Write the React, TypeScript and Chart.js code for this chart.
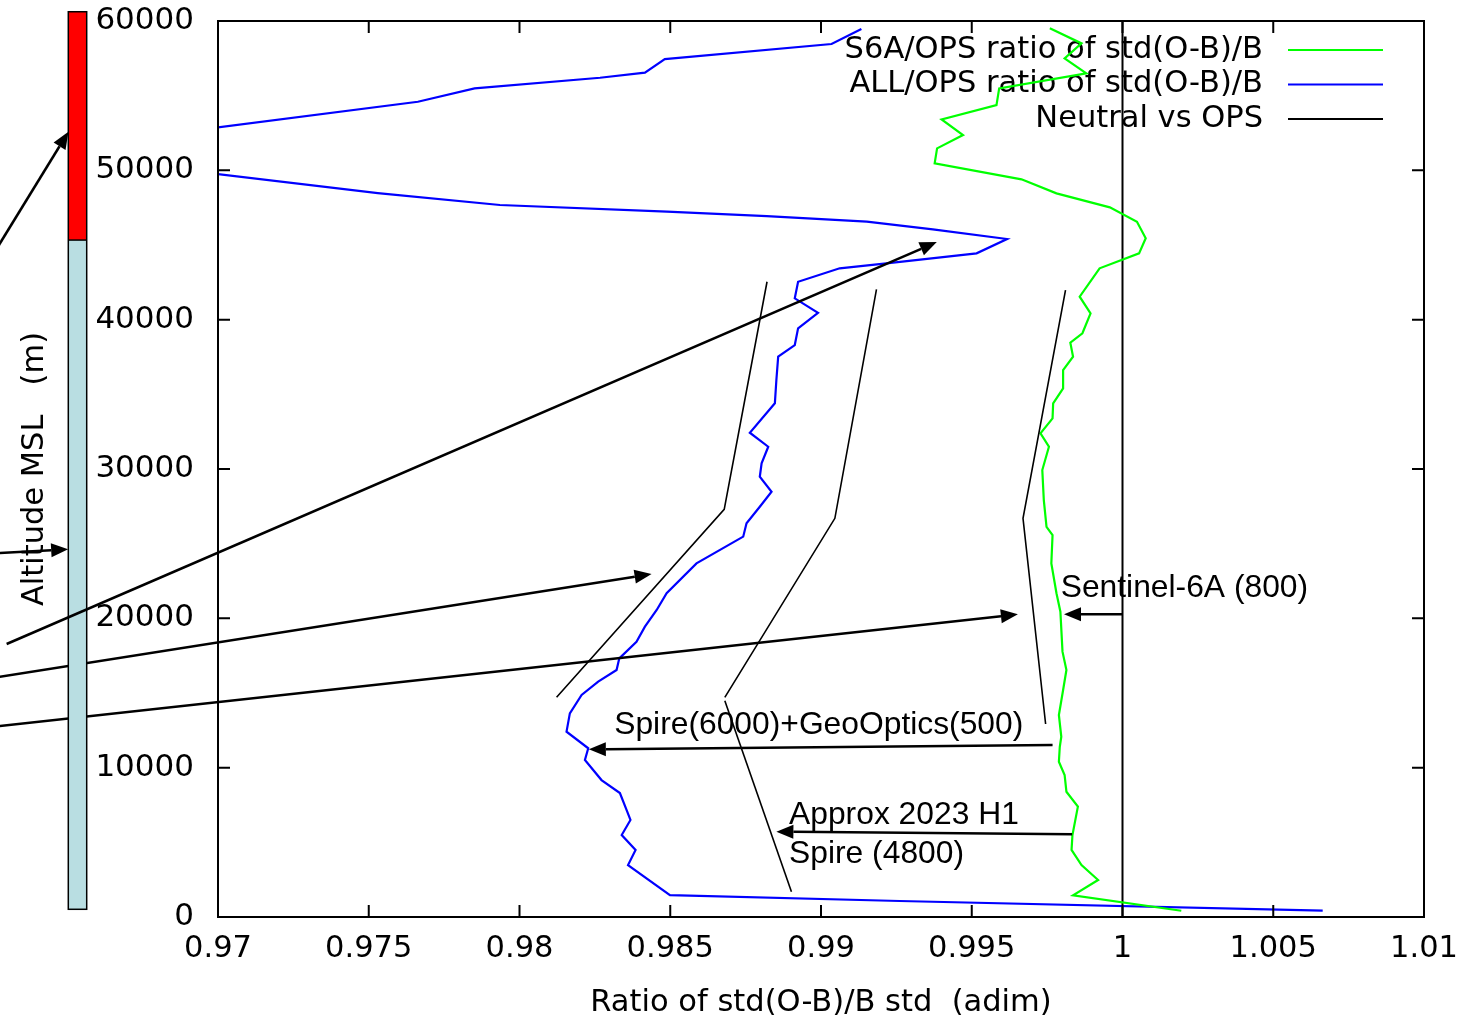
import React, { useEffect, useRef } from "react";
import { Chart, registerables } from "chart.js";

Chart.register(...registerables);

// ---------------- data ----------------
const xTicks = [0.97, 0.975, 0.98, 0.985, 0.99, 0.995, 1.0, 1.005, 1.01];
const xTickLabels = ["0.97", "0.975", "0.98", "0.985", "0.99", "0.995", "1", "1.005", "1.01"];
const yTicks = [0, 10000, 20000, 30000, 40000, 50000, 60000];
const yTickLabels = ["0", "10000", "20000", "30000", "40000", "50000", "60000"];

// ALL/OPS ratio of std(O-B)/B (blue)
const allRatio = [
  1.00664, 0.99261, 0.98499, 0.9836, 0.98385, 0.98339, 0.98368, 0.98355, 0.98333, 0.98272,
  0.98217, 0.98228, 0.98156, 0.98167, 0.98206, 0.98261, 0.98322, 0.98331, 0.98388, 0.98416,
  0.98455, 0.98488, 0.98587, 0.98742, 0.98753, 0.98797, 0.98836, 0.98797, 0.98803, 0.98825,
  0.98764, 0.98847, 0.98852, 0.98858, 0.98913, 0.98924, 0.9899, 0.98913, 0.98924, 0.99062,
  0.99217, 0.99516, 0.99617, 0.99371, 0.99152, 0.9882, 0.98489, 0.97935, 0.9753, 0.9637,
  0.97663, 0.97851, 0.98267, 0.98416, 0.98482, 0.99035, 0.99134,
];
const allAlt = [
  430, 1070, 1470, 3480, 4490, 5490, 6500, 7170, 8300, 9170,
  10510, 11300, 12410, 13640, 14870, 15760, 16540, 17320, 18430, 19440,
  20560, 21680, 23680, 25470, 26360, 27470, 28480, 29480, 30380, 31490,
  32430, 34400, 35960, 37520, 38300, 39420, 40460, 41430, 42540, 43440,
  43770, 44440, 45400, 46050, 46560, 46940, 47230, 47680, 48480, 51250,
  54590, 55490, 56200, 56540, 57450, 58460, 59460,
];

// S6A/OPS ratio of std(O-B)/B (green)
const s6aRatio = [
  1.00195, 0.99836, 0.99919, 0.99864, 0.99831, 0.99834, 0.99852, 0.99814, 0.99808, 0.99789,
  0.99792, 0.99797, 0.99789, 0.99803, 0.99814, 0.99801, 0.99794, 0.99781, 0.99764, 0.99768,
  0.99748, 0.99739, 0.99734, 0.99756, 0.99728, 0.99768, 0.9977, 0.99803, 0.99803, 0.99836,
  0.99827, 0.99867, 0.99894, 0.99858, 0.99924, 1.00055, 1.00077, 1.00048, 0.99958, 0.99781,
  0.99665, 0.99377, 0.99385, 0.99471, 0.994, 0.99582, 0.99591, 0.9988, 0.99808, 0.99864,
  0.99759,
];
const s6aAlt = [
  420, 1450, 2480, 3480, 4490, 5490, 7390, 8390, 9510, 10400,
  11400, 12070, 13530, 15200, 16540, 17770, 20440, 21680, 23680, 25580,
  26130, 27920, 29930, 31490, 32390, 33390, 34400, 35400, 36630, 37520,
  38460, 39090, 40420, 41540, 43440, 44440, 45450, 46560, 47520, 48460,
  49400, 50470, 51470, 52360, 53410, 54370, 55490, 56490, 57500, 58500,
  59510,
];

// Neutral vs OPS (black vertical)
const neutralRatio = [1.0, 1.0];
const neutralAlt = [0, 60000];

// colour bar altitudes (top, red/blue split, bottom)
const barAlt = [60620, 45330, 516];

// annotation arrows (data coordinates: [ratio, altitude])
const arrowsBehindBar = [
  [[0.96201, 15850], [0.98438, 22967]],
  [[0.96201, 12622], [0.99653, 20269]],
];
const arrowsFront = [
  [[0.96201, 42620], [0.96504, 52584]],
  [[0.96201, 24293], [0.96503, 24621]],
  [[0.96299, 18280], [0.99384, 45198]],
  [[1.0, 20269], [0.99806, 20269]],
  [[0.99768, 11517], [0.9823, 11229]],
  [[0.99833, 5538], [0.98852, 5712]],
];
const guideLine1 = [[0.98123, 14711], [0.98679, 27300], [0.98821, 42540]];
const guideLine2 = [[0.98681, 14711], [0.99046, 26697], [0.99184, 42031]];
const guideLine3 = [[0.99745, 12923], [0.9967, 26697], [0.99811, 41984]];
const guideLine4 = [[0.98681, 14484], [0.98902, 1694]];

const noteTexts = ["Sentinel-6A (800)", "Spire(6000)+GeoOptics(500)", "Approx 2023 H1", "Spire (4800)"];
const noteRatio = [0.99795, 0.98314, 0.98894, 0.98894];
const noteAlt = [21427, 12234, 6227, 3616];

// ---------------- drawing helpers ----------------
const DEJAVU = '"DejaVu Sans", sans-serif';
const ARIAL = '"Liberation Sans", Arial, sans-serif';

function toPx(chart: any, p: number[]) {
  return [chart.scales.x.getPixelForValue(p[0]), chart.scales.y.getPixelForValue(p[1])];
}

function drawArrow(ctx: CanvasRenderingContext2D, a: number[], b: number[], lw: number) {
  const ang = Math.atan2(b[1] - a[1], b[0] - a[0]);
  const L = 17;
  const W = 7;
  const bx = b[0] - L * Math.cos(ang);
  const by = b[1] - L * Math.sin(ang);
  ctx.lineWidth = lw;
  ctx.beginPath();
  ctx.moveTo(a[0], a[1]);
  ctx.lineTo(bx, by);
  ctx.stroke();
  ctx.beginPath();
  ctx.moveTo(b[0], b[1]);
  ctx.lineTo(bx + W * Math.sin(ang), by - W * Math.cos(ang));
  ctx.lineTo(bx - W * Math.sin(ang), by + W * Math.cos(ang));
  ctx.closePath();
  ctx.fill();
}

const decorPlugin = {
  id: "decor",
  beforeDatasetsDraw(chart: any) {
    const { ctx, chartArea } = chart;
    ctx.save();
    ctx.font = `30.5px ${DEJAVU}`;
    ctx.textAlign = "right";
    ctx.textBaseline = "middle";
    chart.data.datasets.forEach((ds: any, i: number) => {
      const y = chartArea.top + 29 + i * 34.5;
      ctx.fillStyle = "#000";
      ctx.fillText(ds.label, chartArea.right - 161, y);
      ctx.strokeStyle = ds.borderColor;
      ctx.lineWidth = 2;
      ctx.beginPath();
      ctx.moveTo(chartArea.right - 136, y);
      ctx.lineTo(chartArea.right - 41, y);
      ctx.stroke();
    });
    ctx.restore();
  },
  afterDatasetsDraw(chart: any) {
    const { ctx, chartArea } = chart;
    const { left, right, top, bottom } = chartArea;
    ctx.save();
    ctx.strokeStyle = "#000";
    ctx.lineWidth = 2;
    const tl = 12;
    xTicks.forEach((v) => {
      const x = chart.scales.x.getPixelForValue(v);
      ctx.beginPath();
      ctx.moveTo(x, bottom);
      ctx.lineTo(x, bottom - tl);
      ctx.moveTo(x, top);
      ctx.lineTo(x, top + tl);
      ctx.stroke();
    });
    yTicks.forEach((v) => {
      const y = chart.scales.y.getPixelForValue(v);
      ctx.beginPath();
      ctx.moveTo(left, y);
      ctx.lineTo(left + tl, y);
      ctx.moveTo(right, y);
      ctx.lineTo(right - tl, y);
      ctx.stroke();
    });
    ctx.strokeRect(left, top, right - left, bottom - top);
    ctx.restore();
  },
  afterDraw(chart: any) {
    const { ctx, chartArea } = chart;
    const yS = chart.scales.y;
    ctx.save();
    ctx.strokeStyle = "#000";
    ctx.fillStyle = "#000";
    ctx.lineCap = "butt";

    arrowsBehindBar.forEach((ar) => drawArrow(ctx, toPx(chart, ar[0]), toPx(chart, ar[1]), 2.5));

    // colour bar
    const bx0 = chartArea.left - 149.7;
    const bx1 = chartArea.left - 131.3;
    const yTop = yS.getPixelForValue(barAlt[0]);
    const ySplit = yS.getPixelForValue(barAlt[1]);
    const yBot = yS.getPixelForValue(barAlt[2]);
    ctx.fillStyle = "#ff0000";
    ctx.fillRect(bx0, yTop, bx1 - bx0, ySplit - yTop);
    ctx.fillStyle = "#b9dee2";
    ctx.fillRect(bx0, ySplit, bx1 - bx0, yBot - ySplit);
    ctx.lineWidth = 1.5;
    ctx.strokeRect(bx0, yTop, bx1 - bx0, yBot - yTop);
    ctx.beginPath();
    ctx.moveTo(bx0, ySplit);
    ctx.lineTo(bx1, ySplit);
    ctx.stroke();

    ctx.fillStyle = "#000";
    arrowsFront.forEach((ar) => drawArrow(ctx, toPx(chart, ar[0]), toPx(chart, ar[1]), 2.5));

    ctx.lineWidth = 1.6;
    [guideLine1, guideLine2, guideLine3, guideLine4].forEach((pl) => {
      ctx.beginPath();
      pl.forEach((p, i) => {
        const q = toPx(chart, p);
        if (i === 0) ctx.moveTo(q[0], q[1]);
        else ctx.lineTo(q[0], q[1]);
      });
      ctx.stroke();
    });

    ctx.font = `31.8px ${ARIAL}`;
    ctx.textAlign = "left";
    ctx.textBaseline = "alphabetic";
    noteTexts.forEach((t, i) => {
      const q = toPx(chart, [noteRatio[i], noteAlt[i]]);
      ctx.fillText(t, q[0], q[1]);
    });
    ctx.restore();
  },
};

function pts(xs: number[], ys: number[]) {
  return xs.map((x, i) => ({ x, y: ys[i] }));
}

export default function App() {
  const ref = useRef<HTMLCanvasElement | null>(null);

  useEffect(() => {
    document.body.style.margin = "0";
    const canvas = ref.current;
    if (!canvas) return;
    const chart = new Chart(canvas, {
      type: "scatter",
      data: {
        datasets: [
          {
            label: "S6A/OPS ratio of std(O-B)/B",
            data: pts(s6aRatio, s6aAlt),
            borderColor: "#00ff00",
            backgroundColor: "#00ff00",
            borderWidth: 2.2,
            showLine: true,
            pointRadius: 0,
            tension: 0,
          },
          {
            label: "ALL/OPS ratio of std(O-B)/B",
            data: pts(allRatio, allAlt),
            borderColor: "#0000ff",
            backgroundColor: "#0000ff",
            borderWidth: 2.2,
            showLine: true,
            pointRadius: 0,
            tension: 0,
          },
          {
            label: "Neutral vs OPS",
            data: pts(neutralRatio, neutralAlt),
            borderColor: "#000000",
            backgroundColor: "#000000",
            borderWidth: 2,
            showLine: true,
            pointRadius: 0,
            tension: 0,
          },
        ],
      },
      options: {
        animation: false,
        responsive: false,
        devicePixelRatio: 1,
        events: [],
        layout: { padding: { top: 21, right: 49, bottom: 0, left: 0 } },
        plugins: { legend: { display: false }, tooltip: { enabled: false } },
        scales: {
          x: {
            type: "linear",
            min: 0.97,
            max: 1.01,
            afterBuildTicks: (s: any) => {
              s.ticks = xTicks.map((v) => ({ value: v }));
            },
            afterFit: (s: any) => {
              s.height = 101;
              s.paddingLeft = 0;
              s.paddingRight = 0;
            },
            ticks: {
              autoSkip: false,
              maxRotation: 0,
              padding: 14,
              color: "#000",
              font: { family: DEJAVU, size: 30.5 },
              callback: (v: any) => xTickLabels[xTicks.indexOf(Number(v))] ?? "",
            },
            grid: { display: false, drawTicks: false },
            border: { display: false },
            title: {
              display: true,
              text: "Ratio of std(O-B)/B std  (adim)",
              color: "#000",
              font: { family: DEJAVU, size: 30.5, lineHeight: 1 },
              padding: { top: 0, bottom: 0 },
            },
          },
          y: {
            type: "linear",
            min: 0,
            max: 60000,
            afterBuildTicks: (s: any) => {
              s.ticks = yTicks.map((v) => ({ value: v }));
            },
            afterFit: (s: any) => {
              s.width = 218;
              s.paddingTop = 0;
              s.paddingBottom = 0;
            },
            ticks: {
              autoSkip: false,
              padding: 24,
              color: "#000",
              font: { family: DEJAVU, size: 31 },
              callback: (v: any) => yTickLabels[yTicks.indexOf(Number(v))] ?? "",
            },
            grid: { display: false, drawTicks: false },
            border: { display: false },
            title: {
              display: true,
              text: "Altitude MSL   (m)",
              color: "#000",
              font: { family: DEJAVU, size: 30.5, lineHeight: 1 },
              padding: { top: 20, bottom: 0 },
            },
          },
        },
      },
      plugins: [decorPlugin],
    } as any);
    return () => chart.destroy();
  }, []);

  return (
    <div style={{ width: 1473, height: 1018, position: "relative", background: "#fff" }}>
      <canvas ref={ref} width={1473} height={1018} style={{ display: "block" }} />
    </div>
  );
}
